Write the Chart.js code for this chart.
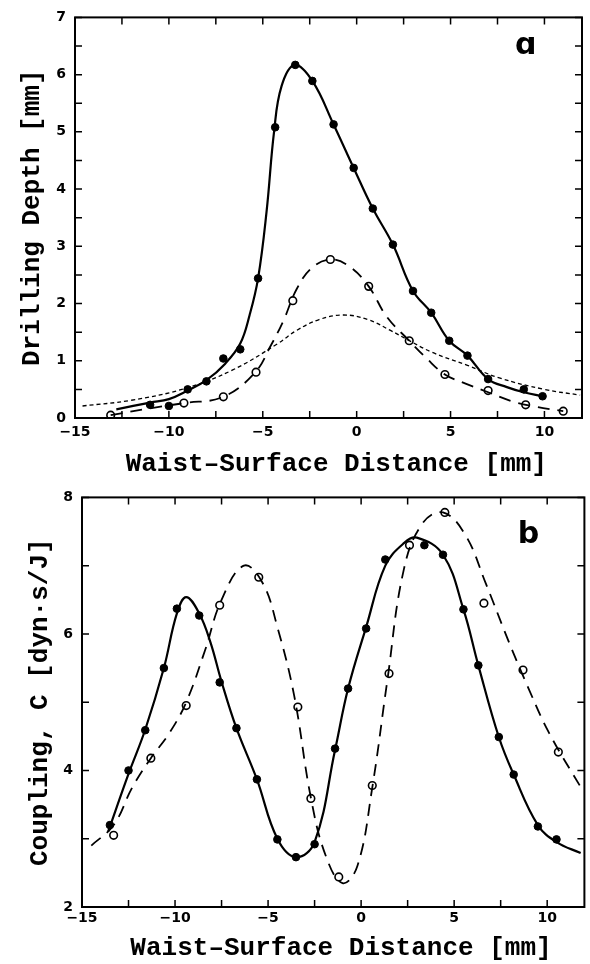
<!DOCTYPE html>
<html>
<head>
<meta charset="utf-8">
<script src="https://cdn.jsdelivr.net/npm/chart.js@4.4.1/dist/chart.umd.min.js"></script>
<style>
  html, body { margin: 0; padding: 0; background: #fff; }
  #wrap { position: relative; width: 590px; height: 964px; }
  #chart-a { position: absolute; left: 0; top: 0; }
  #chart-b { position: absolute; left: 0; top: 480px; }
</style>
</head>
<body>
<div id="wrap">
  <canvas id="chart-a" width="590" height="480"></canvas>
  <canvas id="chart-b" width="590" height="484"></canvas>
</div>
<script>
// Panel a: drilling depth vs waist-surface distance
const aFilledX = [-11, -10, -9, -8, -7.1, -6.2, -5.25, -4.34, -3.27, -2.36, -1.23, -0.16, 0.86, 1.93, 3.0, 3.97, 4.93, 5.9, 7.0, 8.9, 9.9];
const aFilledY = [0.23, 0.21, 0.5, 0.64, 1.04, 1.2, 2.44, 5.08, 6.17, 5.89, 5.13, 4.37, 3.66, 3.03, 2.22, 1.84, 1.35, 1.09, 0.68, 0.5, 0.38];
const aSolidX = [-12.8, -11, -10, -9, -8, -7, -6.2, -5.7, -5.25, -4.8, -4.4, -4.0, -3.3, -2.36, -1.23, -0.16, 0.86, 1.93, 3.0, 3.97, 4.93, 5.9, 7.0, 8.0, 8.9, 9.9];
const aSolidY = [0.15, 0.27, 0.33, 0.48, 0.66, 0.95, 1.3, 1.8, 2.44, 3.6, 5.0, 5.8, 6.17, 5.89, 5.13, 4.37, 3.66, 3.03, 2.22, 1.84, 1.35, 1.09, 0.68, 0.54, 0.45, 0.38];
const aOpenX = [-13.1, -9.2, -7.1, -5.36, -3.4, -1.4, 0.64, 2.8, 4.7, 7.0, 9.0, 11.0];
const aOpenY = [0.05, 0.26, 0.37, 0.8, 2.05, 2.77, 2.3, 1.35, 0.76, 0.48, 0.23, 0.12];
const aDashX = [-13.1, -11, -9.2, -7.1, -5.4, -4.6, -3.9, -3.2, -2.4, -1.4, -0.4, 0.64, 1.6, 2.8, 3.7, 4.7, 5.8, 7.0, 8.2, 9.3, 11];
const aDashY = [0.05, 0.17, 0.26, 0.37, 0.8, 1.25, 1.7, 2.25, 2.62, 2.77, 2.65, 2.3, 1.77, 1.35, 1.05, 0.76, 0.6, 0.45, 0.3, 0.21, 0.12];
const aDotX = [-14.6, -12, -9.1, -6.6, -4.2, -3.2, -2.0, -0.7, 0.6, 1.8, 2.7, 4.0, 5.9, 7.6, 10, 11.9];
const aDotY = [0.21, 0.31, 0.52, 0.84, 1.3, 1.53, 1.72, 1.8, 1.72, 1.53, 1.37, 1.15, 0.92, 0.7, 0.5, 0.4];

// Panel b: coupling vs waist-surface distance
const bFilledX = [-13.5, -12.5, -11.6, -10.6, -9.9, -8.7, -7.6, -6.7, -5.6, -4.5, -3.5, -2.5, -1.4, -0.7, 0.27, 1.3, 3.4, 4.4, 5.5, 6.3, 7.4, 8.2, 9.5, 10.5];
const bFilledY = [3.2, 4.0, 4.59, 5.5, 6.37, 6.27, 5.29, 4.62, 3.87, 2.99, 2.73, 2.92, 4.32, 5.2, 6.08, 7.09, 7.3, 7.16, 6.36, 5.54, 4.49, 3.94, 3.18, 2.99];
const bSolidX = [-13.6, -12.5, -11.6, -10.6, -9.9, -9.4, -8.7, -8.1, -7.5, -6.7, -5.6, -4.5, -3.5, -2.5, -1.4, -0.7, 0.27, 1.3, 2.3, 3.0, 4.4, 5.5, 6.3, 7.4, 8.2, 9.5, 10.5, 11.8];
const bSolidY = [3.1, 3.95, 4.6, 5.5, 6.3, 6.54, 6.3, 5.88, 5.3, 4.62, 3.87, 3.0, 2.73, 2.95, 4.3, 5.2, 6.1, 7.0, 7.33, 7.41, 7.16, 6.36, 5.54, 4.49, 3.94, 3.2, 2.95, 2.79];
const bOpenX = [-13.3, -11.3, -9.4, -7.6, -5.5, -3.4, -2.7, -1.2, 0.6, 1.5, 2.6, 4.5, 6.6, 8.7, 10.6];
const bOpenY = [3.05, 4.18, 4.95, 6.42, 6.83, 4.93, 3.59, 2.44, 3.78, 5.42, 7.3, 7.78, 6.45, 5.47, 4.27];
const bDashX = [-14.5, -13.3, -12.3, -11.3, -10.3, -9.4, -8.4, -7.5, -6.3, -5.3, -4.5, -3.6, -2.7, -1.9, -1.0, -0.2, 0.6, 1.4, 2.3, 3.3, 4.4, 5.6, 6.7, 7.9, 9.0, 10.1, 11.9];
const bDashY = [2.9, 3.2, 3.75, 4.18, 4.55, 5.0, 5.75, 6.5, 7.0, 6.75, 6.1, 5.1, 3.6, 2.75, 2.35, 2.6, 3.75, 5.3, 6.95, 7.62, 7.78, 7.45, 6.74, 5.91, 5.2, 4.55, 3.71];

const TITLE_FONT = { family: 'Liberation Mono', size: 26, weight: 'bold' };
const TICK_FONT = { family: 'DejaVu Sans', size: 14, weight: 'bold' };

function pts(xs, ys) {
    return xs.map((x, i) => ({ x: x, y: ys[i] }));
}

function fmt(v) {
    return String(v).replace('-', '\u2212');
}

// frame + inward ticks on all four sides
const frameTicks = {
    id: 'frameTicks',
    afterDraw(chart, args, opts) {
        const { ctx, chartArea: a, scales } = chart;
        ctx.save();
        ctx.strokeStyle = '#000';
        ctx.lineWidth = 2;
        ctx.strokeRect(a.left, a.top, a.right - a.left, a.bottom - a.top);
        ctx.lineWidth = 1.5;
        ctx.beginPath();
        scales.x.ticks.forEach(t => {
            const r = t.value / opts.xStep;
            if (Math.abs(r - Math.round(r)) > 1e-6) return;
            const px = scales.x.getPixelForValue(t.value);
            ctx.moveTo(px, a.bottom); ctx.lineTo(px, a.bottom - 7);
            ctx.moveTo(px, a.top); ctx.lineTo(px, a.top + 7);
        });
        scales.y.ticks.forEach(t => {
            const r = t.value / opts.yStep;
            if (Math.abs(r - Math.round(r)) > 1e-6) return;
            const py = scales.y.getPixelForValue(t.value);
            ctx.moveTo(a.left, py); ctx.lineTo(a.left + 7, py);
            ctx.moveTo(a.right, py); ctx.lineTo(a.right - 7, py);
        });
        ctx.stroke();
        // panel letter
        if (opts.letter) {
            ctx.fillStyle = '#000';
            ctx.font = opts.letterFont;
            ctx.textAlign = 'center';
            ctx.textBaseline = 'middle';
            ctx.fillText(opts.letter, scales.x.getPixelForValue(opts.letterX), scales.y.getPixelForValue(opts.letterY));
        }
        ctx.restore();
    }
};

function curve(xs, ys, dash, width) {
    return {
        data: pts(xs, ys),
        showLine: true,
        borderColor: '#000',
        borderWidth: width,
        borderDash: dash,
        pointRadius: 0,
        tension: 0.4,
        fill: false
    };
}

function markers(xs, ys, filled) {
    return {
        data: pts(xs, ys),
        showLine: false,
        pointRadius: filled ? 3.8 : 3.8,
        pointBorderWidth: filled ? 1 : 1.6,
        pointBorderColor: '#000',
        pointBackgroundColor: filled ? '#000' : '#fff'
    };
}

function makeChart(id, cfg) {
    const ctx = document.getElementById(id).getContext('2d');
    return new Chart(ctx, {
        type: 'scatter',
        data: { datasets: cfg.datasets },
        plugins: [frameTicks],
        options: {
            responsive: false,
            animation: false,
            devicePixelRatio: 1,
            layout: { padding: cfg.padding },
            plugins: {
                legend: { display: false },
                tooltip: { enabled: false },
                frameTicks: cfg.frame
            },
            scales: {
                x: {
                    type: 'linear',
                    min: -15, max: 12,
                    afterFit: s => { s.height = cfg.xHeight; },
                    grid: { display: false, drawTicks: false },
                    border: { display: false },
                    ticks: {
                        stepSize: 2.5,
                        padding: cfg.xPad,
                        color: '#000',
                        font: TICK_FONT,
                        maxRotation: 0,
                        autoSkip: false,
                        callback: v => (v % 5 === 0 ? fmt(v) : '')
                    },
                    title: {
                        display: true,
                        text: ' Waist\u2013Surface Distance [mm]',
                        color: '#000',
                        font: TITLE_FONT,
                        padding: { top: 0, bottom: cfg.xTitlePad }
                    }
                },
                y: {
                    type: 'linear',
                    min: cfg.yMin, max: cfg.yMax,
                    afterFit: s => { s.width = cfg.yWidth; },
                    grid: { display: false, drawTicks: false },
                    border: { display: false },
                    ticks: {
                        stepSize: cfg.yStep,
                        padding: 9,
                        color: '#000',
                        font: TICK_FONT,
                        autoSkip: false,
                        callback: v => (v % cfg.yLabelStep === 0 ? fmt(v) : '')
                    },
                    title: {
                        display: true,
                        text: cfg.yTitle,
                        color: '#000',
                        font: TITLE_FONT,
                        padding: { top: cfg.yTitlePad, bottom: 0 }
                    }
                }
            }
        }
    });
}

makeChart('chart-a', {
    datasets: [
        curve(aSolidX, aSolidY, [], 2.2),
        curve(aDashX, aDashY, [12, 8], 1.8),
        curve(aDotX, aDotY, [4, 3], 1.3),
        markers(aFilledX, aFilledY, true),
        markers(aOpenX, aOpenY, false)
    ],
    padding: { top: 14, right: 8, left: 0, bottom: 0 },
    xHeight: 62, xPad: 6, xTitlePad: 0,
    yWidth: 75, yMin: 0, yMax: 7, yStep: 0.5, yLabelStep: 1,
    yTitle: 'Drilling Depth [mm]', yTitlePad: 17,
    frame: { xStep: 2.5, yStep: 0.5, letter: '\u0251', letterX: 9.0, letterY: 6.5, letterFont: 'bold 30px "DejaVu Sans"' }
});

makeChart('chart-b', {
    datasets: [
        curve(bSolidX, bSolidY, [], 2.2),
        curve(bDashX, bDashY, [12, 8], 1.8),
        markers(bFilledX, bFilledY, true),
        markers(bOpenX, bOpenY, false)
    ],
    padding: { top: 17, right: 2, left: 0, bottom: 0 },
    xHeight: 57, xPad: 3, xTitlePad: 0,
    yWidth: 82, yMin: 2, yMax: 8, yStep: 1, yLabelStep: 2,
    yTitle: 'Coupling, C [dyn\u00b7s/J]', yTitlePad: 25,
    frame: { xStep: 2.5, yStep: 1, letter: 'b', letterX: 9.0, letterY: 7.44, letterFont: 'bold 30px "DejaVu Sans"' }
});
</script>
</body>
</html>
